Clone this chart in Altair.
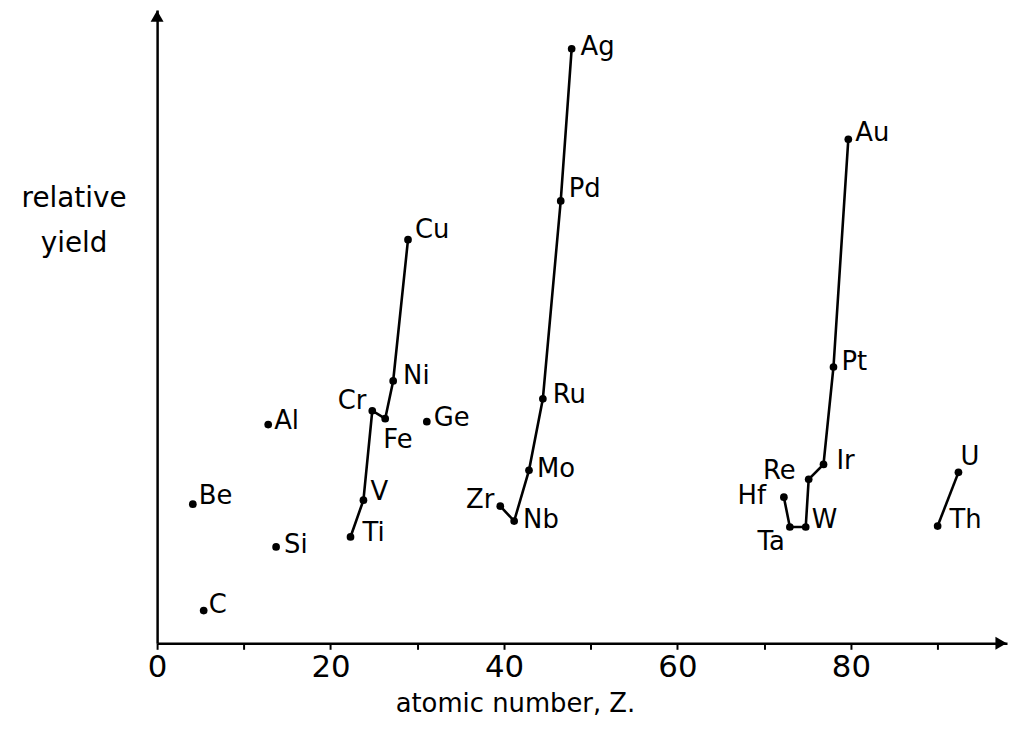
import altair as alt
import pandas as pd

# ---- data ----
elements = ["Be", "C", "Al", "Si", "Ti", "V", "Cr", "Fe", "Ni", "Cu", "Ge",
            "Zr", "Nb", "Mo", "Ru", "Pd", "Ag",
            "Hf", "Ta", "W", "Re", "Ir", "Pt", "Au", "Th", "U"]
atomic_z = [4, 6, 13, 14, 22, 23, 24, 26, 28, 29, 32,
            40, 41, 42, 44, 46, 47,
            72, 73, 74, 75, 77, 78, 79, 90, 92]
z_position = [4.12, 5.37, 12.81, 13.72, 22.30, 23.79, 24.81, 26.30, 27.22, 28.93, 31.10,
              39.57, 41.17, 42.88, 44.48, 46.54, 47.80,
              72.27, 72.96, 74.79, 75.13, 76.84, 77.99, 79.70, 90.00, 92.40]
relative_yield = [21.98, 5.18, 34.54, 15.23, 16.80, 22.61, 36.73, 35.48, 41.44, 63.74, 35.01,
                  21.66, 19.31, 27.32, 38.62, 69.86, 93.88,
                  23.08, 18.37, 18.37, 25.90, 28.26, 43.64, 79.59, 18.52, 27.00]
series = ["", "", "", "", "3d", "3d", "3d", "3d", "3d", "3d", "",
          "4d", "4d", "4d", "4d", "4d", "4d",
          "5d", "5d", "5d", "5d", "5d", "5d", "5d", "5f", "5f"]

x_ticks = [0, 10, 20, 30, 40, 50, 60, 70, 80, 90]
X_MAX = 98
Y_MAX = 100

df = pd.DataFrame({"el": elements, "Z": atomic_z, "x": z_position,
                   "y": relative_yield, "series": series})

# label placement (pixels) : dx, dy, align
label_style = {
    "Be": (6, -8, "left"), "C": (5, -6, "left"), "Al": (6, -4, "left"),
    "Si": (8, -2, "left"), "Ti": (12, -4, "left"), "V": (7, -8, "left"),
    "Cr": (-6, -10, "right"), "Fe": (-2, 22, "left"), "Ni": (10, -5, "left"),
    "Cu": (7, -10, "left"), "Ge": (7, -4, "left"),
    "Zr": (-6, -6, "right"), "Nb": (9, -1, "left"), "Mo": (8, -1, "left"),
    "Ru": (10, -4, "left"), "Pd": (8, -12, "left"), "Ag": (9, -2, "left"),
    "Hf": (-18, -1, "right"), "Ta": (-5, 15, "right"), "W": (6, -7, "left"),
    "Re": (-13, -8, "right"), "Ir": (13, -3, "left"), "Pt": (8, -5, "left"),
    "Au": (7, -6, "left"), "Th": (12, -6, "left"), "U": (2, -15, "left"),
}

FONT = "DejaVu Sans"

xscale = alt.Scale(domain=[0, X_MAX], nice=False, zero=False)
yscale = alt.Scale(domain=[0, Y_MAX], nice=False, zero=False)

x_enc = alt.X("x:Q", scale=xscale,
              axis=alt.Axis(values=x_ticks,
                            labelExpr="datum.value % 20 == 0 ? datum.label : ''",
                            title="atomic number, Z.",
                            titleFont=FONT, titleFontSize=26, titleFontWeight="normal",
                            titleX=360, titleY=69, titleAlign="center",
                            titleBaseline="alphabetic", titleColor="black",
                            labelFont=FONT, labelFontSize=31, labelColor="black",
                            labelPadding=3, labelFlush=False,
                            tickSize=6, tickWidth=2, tickColor="black",
                            domainColor="black", domainWidth=2.5, grid=False))
y_enc = alt.Y("y:Q", scale=yscale,
              axis=alt.Axis(labels=False, ticks=False, grid=False,
                            domainColor="black", domainWidth=2.5,
                            title=["relative", "yield"], titleAngle=0,
                            titleFont=FONT, titleFontSize=28, titleFontWeight="normal",
                            titleAlign="center", titleBaseline="alphabetic",
                            titleX=-84, titleY=198, titleLineHeight=45,
                            titleColor="black"))

base = alt.Chart(df)

lines = base.transform_filter("datum.series != ''").mark_line(
    color="black", strokeWidth=2.6).encode(
    x=x_enc, y=y_enc, detail="series:N", order="Z:Q")

points = base.mark_circle(color="black", size=60, opacity=1).encode(x=x_enc, y=y_enc)

label_layers = []
for el in elements:
    dx, dy, al = label_style[el]
    label_layers.append(
        base.transform_filter(alt.datum.el == el).mark_text(
            font=FONT, fontSize=26, color="black", align=al, baseline="middle",
            dx=dx, dy=dy).encode(x=x_enc, y=y_enc, text="el:N"))

arrow_df = pd.DataFrame({"x": [0, X_MAX], "y": [Y_MAX, 0]})
arrow_up = alt.Chart(arrow_df).transform_filter("datum.x == 0").mark_point(
    shape="triangle-up", filled=True, color="black", size=170, opacity=1,
    yOffset=6).encode(x=x_enc, y=y_enc)
arrow_right = alt.Chart(arrow_df).transform_filter("datum.x > 0").mark_point(
    shape="triangle-right", filled=True, color="black", size=170, opacity=1,
    xOffset=-6).encode(x=x_enc, y=y_enc)

chart = alt.layer(lines, points, arrow_up, arrow_right, *label_layers).properties(
    width=855, height=637,
    autosize=alt.AutoSizeParams(type="none"),
    padding={"left": 150, "top": 0, "right": 3, "bottom": 76},
    background="white",
).configure_view(stroke=None)

chart.save("out.html", embed_options={"renderer": "svg", "actions": False})
